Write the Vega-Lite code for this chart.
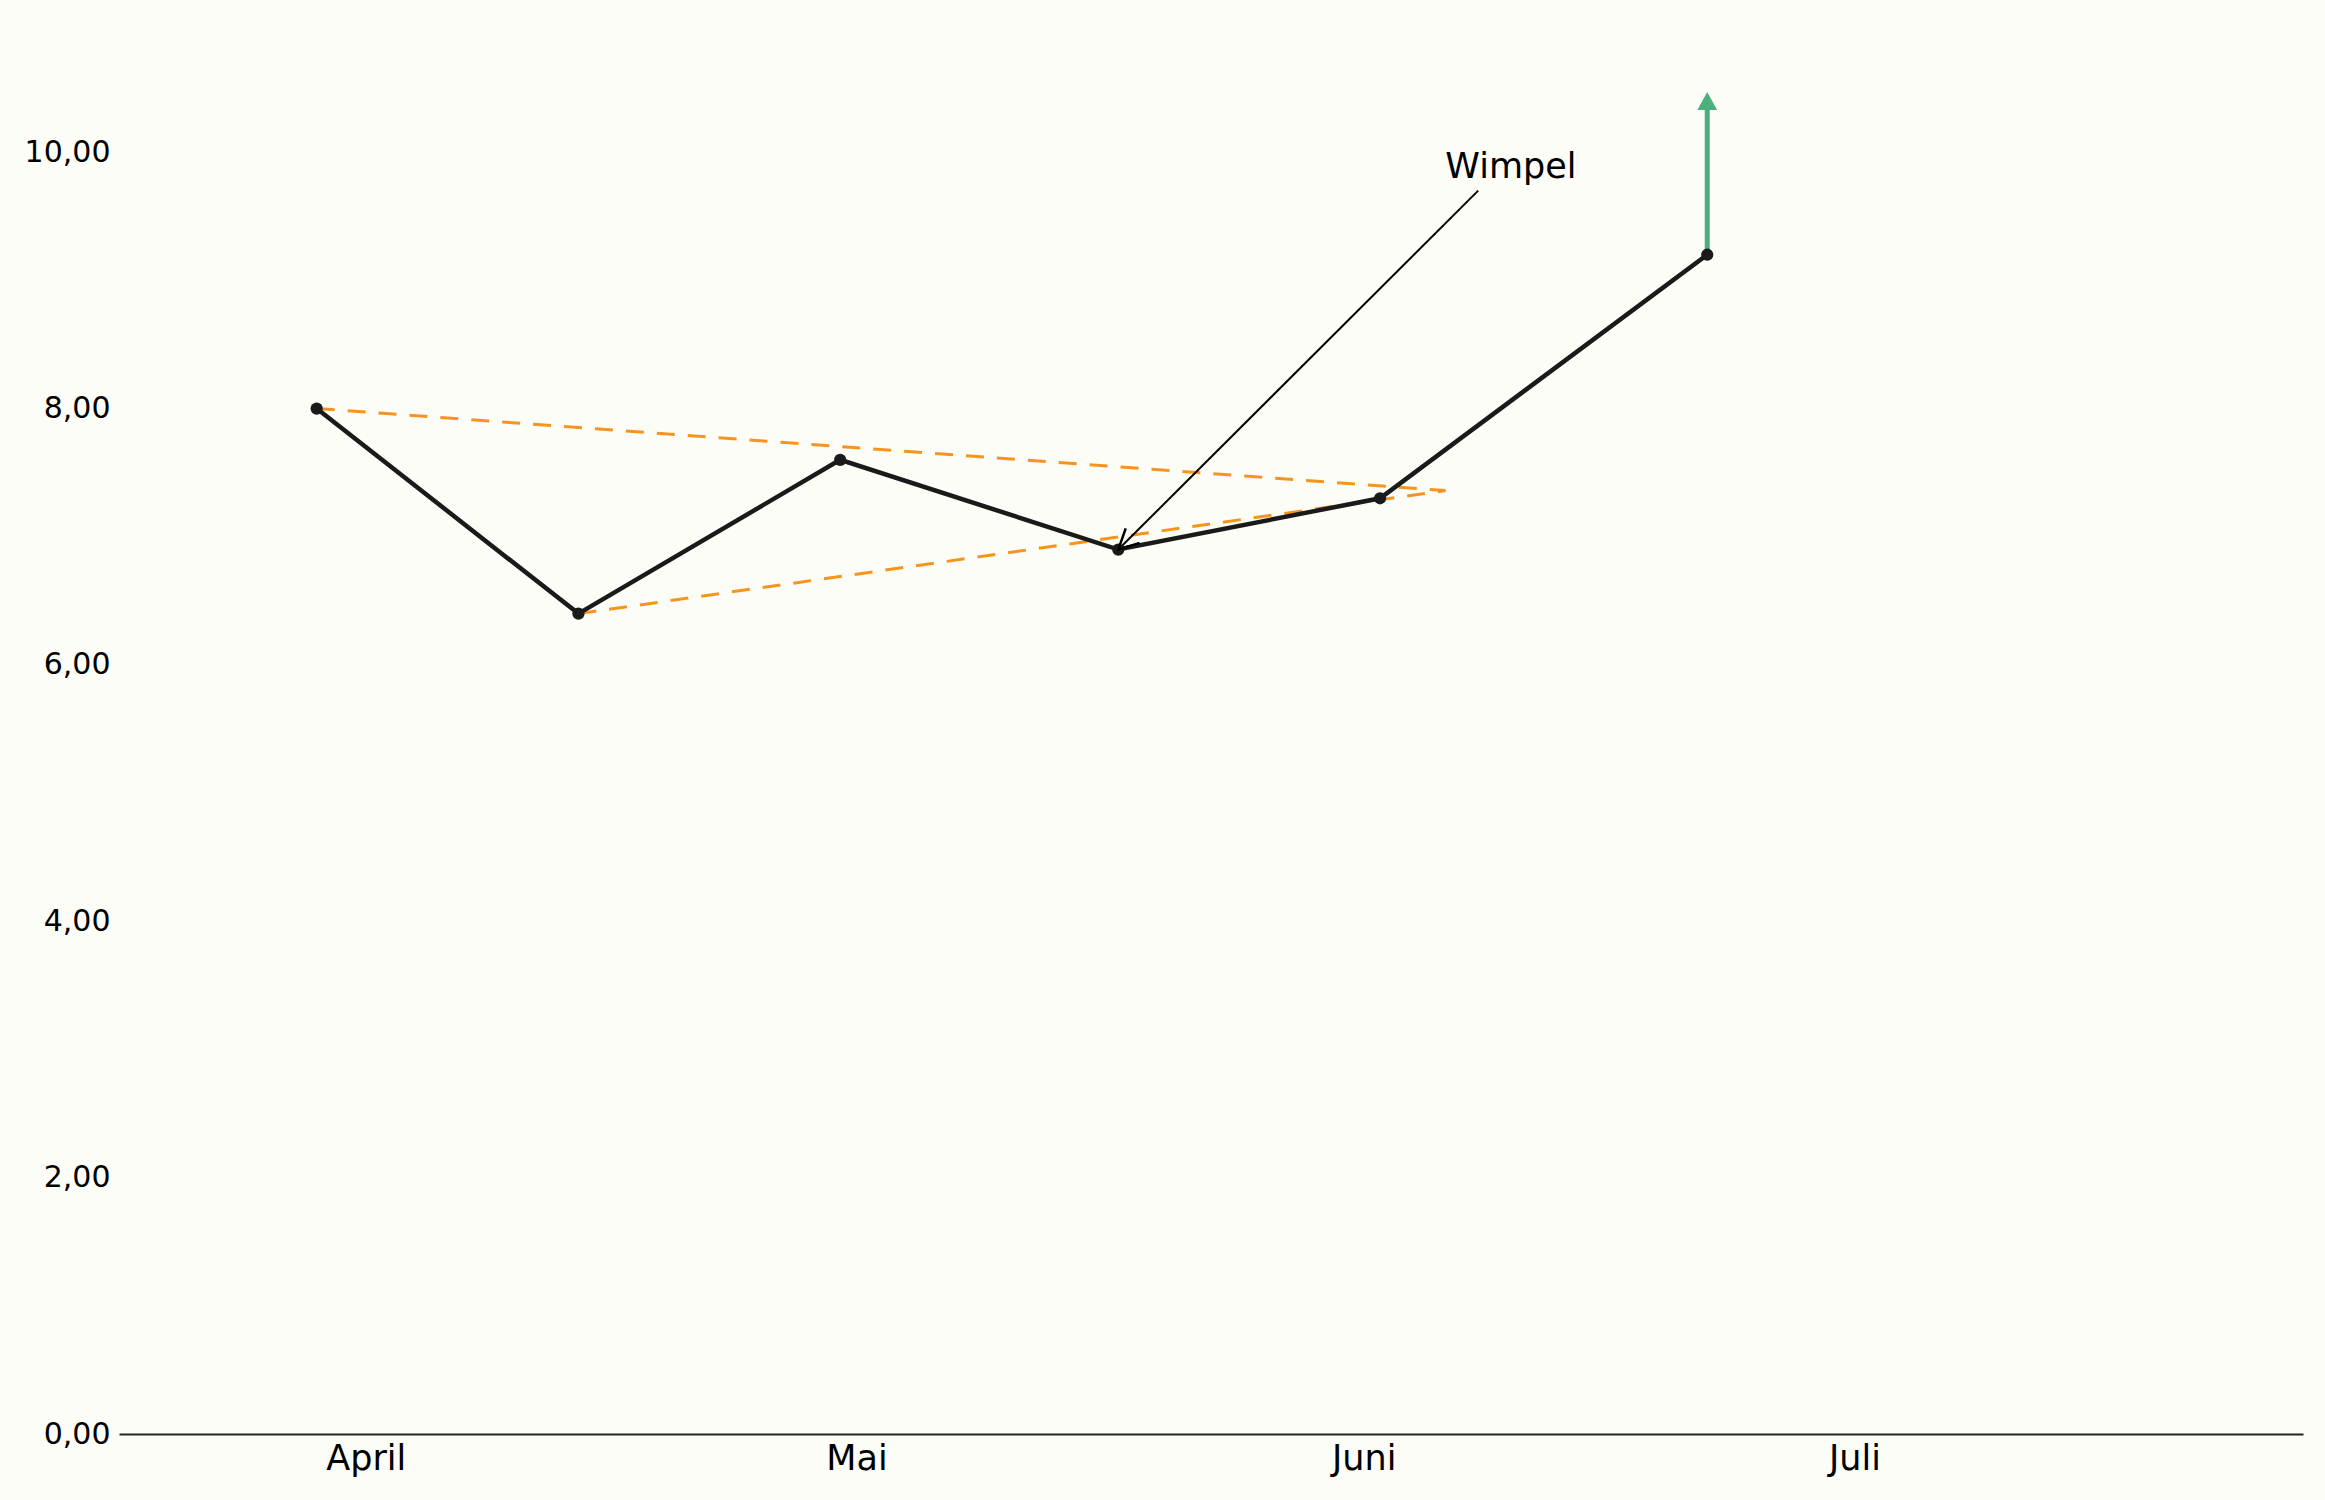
{
  "$schema": "https://vega.github.io/schema/vega-lite/v6.json",
  "description": "Kursverlauf mit Wimpel-Formation",
  "width": 2184,
  "height": 1410,
  "autosize": "none",
  "padding": {"left": 119, "top": 24, "right": 22, "bottom": 66},
  "background": "#fdfdf8",
  "datasets": {
    "linie": [
      {"datum": "2024-03-29", "wert": 8.0},
      {"datum": "2024-04-14", "wert": 6.4},
      {"datum": "2024-04-30", "wert": 7.6},
      {"datum": "2024-05-17", "wert": 6.9},
      {"datum": "2024-06-02", "wert": 7.3},
      {"datum": "2024-06-22", "wert": 9.2}
    ],
    "wimpel": [
      {"datum": "2024-03-29", "wert": 8.0, "kante": "oben"},
      {"datum": "2024-06-06", "wert": 7.36, "kante": "oben"},
      {"datum": "2024-04-14", "wert": 6.4, "kante": "unten"},
      {"datum": "2024-06-06", "wert": 7.36, "kante": "unten"}
    ],
    "pfeil": [
      {"datum": "2024-06-22", "von": 9.2, "bis": 10.35, "spitze": 10.47}
    ],
    "notiz": [
      {"text": "Wimpel", "datum": "2024-06-10", "wert": 9.8, "start_datum": "2024-06-08", "start_wert": 9.7, "ziel_datum": "2024-05-17", "ziel_wert": 6.9}
    ]
  },
  "layer": [
    {
      "data": {"name": "wimpel"},
      "mark": {"type": "line", "color": "#f7941d", "strokeWidth": 3, "strokeDash": [18, 13]},
      "encoding": {
        "x": {
          "field": "datum", "type": "temporal", "title": null,
          "scale": {
            "type": "utc",
            "domain": [
              {"year": 2024, "month": 3, "date": 16, "hours": 22, "utc": true},
              {"year": 2024, "month": 7, "date": 28, "hours": 10, "utc": true}
            ]
          },
          "axis": {
            "values": [
              {"year": 2024, "month": 4, "date": 1, "utc": true},
              {"year": 2024, "month": 5, "date": 1, "utc": true},
              {"year": 2024, "month": 6, "date": 1, "utc": true},
              {"year": 2024, "month": 7, "date": 1, "utc": true}
            ],
            "labelExpr": "['Januar','Februar','März','April','Mai','Juni','Juli','August'][utcmonth(datum.value)]",
            "labelFontSize": 35,
            "labelPadding": 7,
            "labelColor": "#000000",
            "labelFont": "DejaVu Sans",
            "ticks": false,
            "grid": false,
            "domainColor": "#222222",
            "domainWidth": 2
          }
        },
        "y": {
          "field": "wert", "type": "quantitative", "title": null,
          "scale": {"domain": [0, 11], "nice": false},
          "axis": {
            "values": [0, 2, 4, 6, 8, 10],
            "labelExpr": "replace(format(datum.value, '.2f'), '.', ',')",
            "labelFontSize": 30,
            "labelPadding": 9,
            "labelColor": "#000000",
            "labelFont": "DejaVu Sans",
            "ticks": false,
            "grid": false,
            "domain": false
          }
        },
        "detail": {"field": "kante"}
      }
    },
    {
      "data": {"name": "notiz"},
      "mark": {"type": "rule", "color": "#000000", "strokeWidth": 2},
      "encoding": {
        "x": {"field": "start_datum", "type": "temporal", "title": null},
        "y": {"field": "start_wert", "type": "quantitative", "title": null},
        "x2": {"field": "ziel_datum"},
        "y2": {"field": "ziel_wert"}
      }
    },
    {
      "data": {"name": "pfeil"},
      "mark": {"type": "rule", "color": "#4daf7c", "strokeWidth": 5},
      "encoding": {
        "x": {"field": "datum", "type": "temporal", "title": null},
        "y": {"field": "von", "type": "quantitative", "title": null},
        "y2": {"field": "bis"}
      }
    },
    {
      "data": {"name": "pfeil"},
      "mark": {"type": "point", "shape": "M0,0L-0.55,1L0.55,1Z", "size": 1300, "filled": true, "color": "#4daf7c", "opacity": 1},
      "encoding": {
        "x": {"field": "datum", "type": "temporal", "title": null},
        "y": {"field": "spitze", "type": "quantitative", "title": null}
      }
    },
    {
      "data": {"name": "linie"},
      "mark": {"type": "line", "color": "#1a1a1a", "strokeWidth": 4.5, "point": {"filled": true, "size": 150, "color": "#1a1a1a", "opacity": 1}},
      "encoding": {
        "x": {"field": "datum", "type": "temporal", "title": null},
        "y": {"field": "wert", "type": "quantitative", "title": null}
      }
    },
    {
      "data": {"name": "notiz"},
      "mark": {"type": "point", "shape": "M-0.5,-1L0,0L0.5,-1", "size": 1600, "angle": 46, "filled": false, "fill": null, "stroke": "#000000", "strokeWidth": 2.5, "opacity": 1},
      "encoding": {
        "x": {"field": "ziel_datum", "type": "temporal", "title": null},
        "y": {"field": "ziel_wert", "type": "quantitative", "title": null}
      }
    },
    {
      "data": {"name": "notiz"},
      "mark": {"type": "text", "font": "DejaVu Sans", "fontSize": 35, "color": "#000000", "align": "center", "baseline": "alphabetic"},
      "encoding": {
        "x": {"field": "datum", "type": "temporal", "title": null},
        "y": {"field": "wert", "type": "quantitative", "title": null},
        "text": {"field": "text"}
      }
    }
  ],
  "config": {
    "view": {"stroke": null}
  }
}
